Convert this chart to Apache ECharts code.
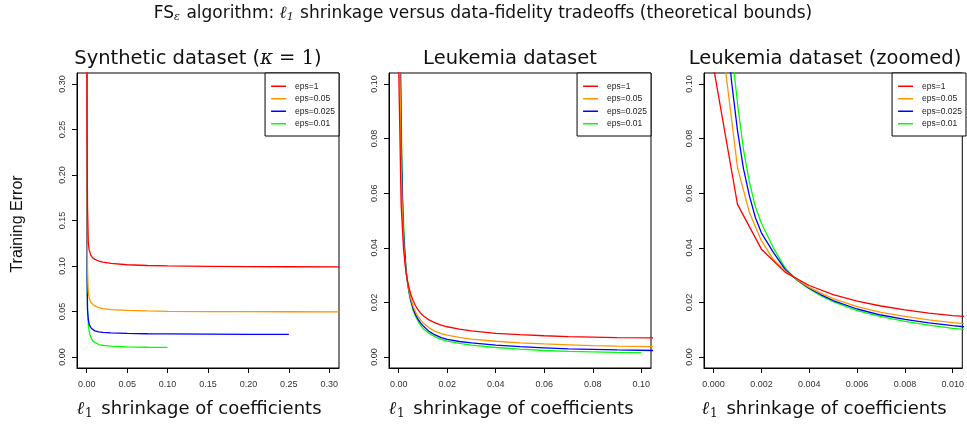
<!DOCTYPE html>
<html><head><meta charset="utf-8">
<script src="https://cdn.jsdelivr.net/npm/echarts@6/dist/echarts.min.js"></script>
<style>html,body{margin:0;padding:0;background:#fff}#c{width:967px;height:429px}</style>
</head><body><div id="c"></div>
<script>
// ---------- DATA ----------
const seriesNames = ['eps=1', 'eps=0.05', 'eps=0.025', 'eps=0.01'];
const seriesColors = ['#FF0000', '#FF9500', '#0000FF', '#00FF00'];

// Synthetic dataset (kappa = 1): [l1 shrinkage, training error]
const synEps1 = [[0.0002,0.40],[0.0005,0.24],[0.001,0.165],[0.002,0.125],[0.003,0.118],[0.005,0.112],[0.0075,0.109],[0.01,0.1073],[0.015,0.1055],[0.02,0.1043],[0.03,0.1028],[0.05,0.1014],[0.075,0.1006],[0.1,0.1002],[0.15,0.0997],[0.2,0.0994],[0.25,0.0992],[0.312,0.0991]];
const synEps005 = [[0.0002,0.4],[0.0005,0.16],[0.001,0.098],[0.0015,0.08],[0.002,0.071],[0.003,0.065],[0.005,0.0605],[0.0075,0.0578],[0.01,0.0562],[0.015,0.0544],[0.02,0.0533],[0.03,0.0522],[0.05,0.0513],[0.075,0.0507],[0.1,0.0503],[0.15,0.05],[0.2,0.0499],[0.25,0.0498],[0.312,0.0497]];
const synEps0025 = [[0.0002,0.4],[0.0005,0.09],[0.001,0.052],[0.002,0.041],[0.003,0.0365],[0.004,0.0342],[0.006,0.0314],[0.008,0.0298],[0.01,0.0288],[0.015,0.0277],[0.02,0.0271],[0.03,0.0265],[0.05,0.026],[0.075,0.0256],[0.1,0.0254],[0.15,0.0252],[0.2,0.025],[0.25,0.0249]];
const synEps001 = [[0.0001,0.5],[0.0003,0.2],[0.0006,0.08],[0.001,0.052],[0.002,0.036],[0.003,0.029],[0.004,0.0245],[0.006,0.0198],[0.008,0.0173],[0.01,0.0158],[0.015,0.0138],[0.02,0.0128],[0.03,0.012],[0.05,0.0113],[0.075,0.0108],[0.1,0.0106]];

// Leukemia dataset (used for both the full and zoomed panels)
const leuEps1 = [[0,0.106],[0.001,0.0559],[0.002,0.0395],[0.003,0.031],[0.004,0.0262],[0.005,0.0229],[0.006,0.0205],[0.007,0.0187],[0.008,0.0173],[0.009,0.0161],[0.01,0.0152],[0.0125,0.0136],[0.015,0.0125],[0.0175,0.0117],[0.02,0.0111],[0.025,0.0102],[0.03,0.0096],[0.04,0.0087],[0.05,0.0082],[0.06,0.0078],[0.07,0.0075],[0.08,0.0073],[0.09,0.0071],[0.105,0.0070]];
const leuEps005 = [[0,0.3],[0.0005,0.105],[0.001,0.0694],[0.0015,0.0529],[0.002,0.0426],[0.0025,0.0357],[0.003,0.0315],[0.0035,0.0283],[0.004,0.0255],[0.0045,0.0233],[0.005,0.0214],[0.006,0.0185],[0.007,0.0164],[0.008,0.0149],[0.009,0.0136],[0.01,0.0126],[0.0125,0.0107],[0.015,0.0094],[0.0175,0.0086],[0.02,0.008],[0.025,0.0072],[0.03,0.0066],[0.04,0.0058],[0.05,0.0052],[0.06,0.0048],[0.07,0.0045],[0.08,0.0042],[0.09,0.004],[0.105,0.0038]];
const leuEps0025 = [[0.0001,0.6],[0.00025,0.25],[0.0005,0.125],[0.00075,0.101],[0.001,0.083],[0.00125,0.069],[0.0015,0.059],[0.00175,0.051],[0.002,0.0455],[0.0025,0.0383],[0.003,0.032],[0.0035,0.0282],[0.004,0.0252],[0.0045,0.0228],[0.005,0.0207],[0.006,0.0176],[0.007,0.0154],[0.008,0.0138],[0.009,0.0125],[0.01,0.0115],[0.0125,0.0094],[0.015,0.0081],[0.0175,0.0071],[0.02,0.0065],[0.025,0.0057],[0.03,0.0052],[0.04,0.0044],[0.05,0.0038],[0.06,0.0034],[0.07,0.003],[0.08,0.0028],[0.09,0.0026],[0.105,0.0024]];
const leuEps001 = [[0.0001,0.8],[0.0003,0.25],[0.0005,0.15],[0.00075,0.113],[0.001,0.093],[0.00125,0.076],[0.0015,0.064],[0.00175,0.055],[0.002,0.049],[0.0025,0.04],[0.003,0.0325],[0.0035,0.028],[0.004,0.0249],[0.0045,0.0224],[0.005,0.0203],[0.006,0.017],[0.007,0.0148],[0.008,0.0131],[0.009,0.0117],[0.01,0.0105],[0.0125,0.0087],[0.015,0.0075],[0.0175,0.0065],[0.02,0.0058],[0.025,0.005],[0.03,0.0044],[0.04,0.0035],[0.05,0.0029],[0.06,0.0024],[0.07,0.0021],[0.08,0.0019],[0.09,0.0017],[0.1,0.0016]];

// Ticks
const synXTicks = [0, 0.05, 0.1, 0.15, 0.2, 0.25, 0.3];
const synXLabels = ['0.00','0.05','0.10','0.15','0.20','0.25','0.30'];
const synYTicks = [0, 0.05, 0.1, 0.15, 0.2, 0.25, 0.3];
const synYLabels = ['0.00','0.05','0.10','0.15','0.20','0.25','0.30'];
const leuXTicks = [0, 0.02, 0.04, 0.06, 0.08, 0.1];
const leuXLabels = ['0.00','0.02','0.04','0.06','0.08','0.10'];
const leuYTicks = [0, 0.02, 0.04, 0.06, 0.08, 0.1];
const leuYLabels = ['0.00','0.02','0.04','0.06','0.08','0.10'];
const zoomXTicks = [0, 0.002, 0.004, 0.006, 0.008, 0.01];
const zoomXLabels = ['0.000','0.002','0.004','0.006','0.008','0.010'];

const panelTitles = ['{t|Synthetic dataset (}{k|κ}{m| = 1}{t|)}', '{t|Leukemia dataset}', '{t|Leukemia dataset (zoomed)}'];
const mainTitle = '{a|FS}{s|ε}{a| algorithm: }{l|ℓ}{s|1}{a| shrinkage versus data-fidelity tradeoffs (theoretical bounds)}';
const xName = '{l|ℓ}{s|1}{t| shrinkage of coefficients}';
const yName = 'Training Error';

// ---------- LAYOUT ----------
const grids = [
  {left: 77, top: 73, width: 262, height: 295},
  {left: 389, top: 73, width: 262, height: 295},
  {left: 704, top: 73, width: 262, height: 295}
];
const xRanges = [[-0.012, 0.312], [-0.004, 0.104], [-0.0004, 0.0104]];
const yRanges = [[-0.012, 0.312], [-0.004, 0.104], [-0.004, 0.104]];
const xTickSets = [[synXTicks, synXLabels], [leuXTicks, leuXLabels], [zoomXTicks, zoomXLabels]];
const yTickSets = [[synYTicks, synYLabels], [leuYTicks, leuYLabels], [leuYTicks, leuYLabels]];
const panelData = [
  [synEps1, synEps005, synEps0025, synEps001],
  [leuEps1, leuEps005, leuEps0025, leuEps001],
  [leuEps1, leuEps005, leuEps0025, leuEps001]
];

function fmt(ticks, labels) {
  return function (v) {
    for (let i = 0; i < ticks.length; i++) if (Math.abs(ticks[i] - v) < 1e-12) return labels[i];
    return '';
  };
}
const labelFont = {fontSize: 9, fontFamily: 'Liberation Sans, Arial, sans-serif', color: '#333'};
const axLine = {show: true, onZero: false, lineStyle: {color: '#000', width: 1}};

const xAxes = [], yAxes = [], series = [], titles = [], legends = [];
grids.forEach((g, i) => {
  const [xt, xl] = xTickSets[i];
  const [yt, yl] = yTickSets[i];
  xAxes.push({
    type: 'value', gridIndex: i, min: xRanges[i][0], max: xRanges[i][1],
    axisLine: axLine,
    axisTick: {show: true, customValues: xt, length: 5, lineStyle: {color: '#000'}},
    axisLabel: Object.assign({customValues: xt, formatter: fmt(xt, xl), margin: 12, hideOverlap: false}, labelFont),
    splitLine: {show: false},
    name: xName, nameLocation: 'middle', nameGap: 31,
    nameTextStyle: {
      padding: [0, 18, 0, 0],
      rich: {
        t: {fontSize: 18, fontFamily: 'DejaVu Sans, sans-serif', color: '#111'},
        l: {fontSize: 18, fontFamily: 'DejaVu Serif, serif', fontStyle: 'italic', color: '#111'},
        s: {fontSize: 12, fontFamily: 'DejaVu Serif, serif', color: '#111', padding: [9, 3, 0, 1]}
      }
    }
  });
  yAxes.push({
    type: 'value', gridIndex: i, min: yRanges[i][0], max: yRanges[i][1],
    axisLine: axLine,
    axisTick: {show: true, customValues: yt, length: 5, lineStyle: {color: '#000'}},
    axisLabel: Object.assign({customValues: yt, formatter: fmt(yt, yl), rotate: 90, margin: 10, hideOverlap: false}, labelFont),
    splitLine: {show: false}
  });
  panelData[i].forEach((d, k) => {
    series.push({
      type: 'line', name: seriesNames[k], xAxisIndex: i, yAxisIndex: i, data: d,
      symbol: 'none', showSymbol: false, clip: true, smooth: false,
      lineStyle: {color: seriesColors[k], width: 1.3}, itemStyle: {color: seriesColors[k]},
      z: 10 - k
    });
  });
  titles.push({
    text: panelTitles[i], left: g.left + g.width / 2 - 10, top: 49, textAlign: 'center', padding: 0,
    textStyle: {
      fontWeight: 'normal',
      rich: {
        t: {fontSize: 19.5, fontFamily: 'DejaVu Sans, sans-serif', color: '#111', fontWeight: 'normal'},
        k: {fontSize: 19.5, fontFamily: 'DejaVu Serif, serif', fontStyle: 'italic', color: '#111', fontWeight: 'normal'},
        m: {fontSize: 19.5, fontFamily: 'DejaVu Serif, serif', color: '#111', fontWeight: 'normal'}
      }
    }
  });
  legends.push({
    orient: 'vertical', right: 967 - (g.left + g.width), top: g.top,
    data: seriesNames, itemWidth: 15, itemHeight: 12.5, itemGap: 0,
    icon: 'path://M0,0h15v1.5h-15z', symbolKeepAspect: true,
    itemStyle: {borderWidth: 0},
    padding: [7, 4, 6, 6], backgroundColor: '#fff', borderColor: '#000', borderWidth: 1, borderRadius: 0,
    selectedMode: false,
    textStyle: {fontSize: 8.5, fontFamily: 'Liberation Sans, Arial, sans-serif', color: '#222', lineHeight: 12.5, padding: [0, 0, 0, 4]}
  });
});
titles.push({
  text: mainTitle, left: 483, top: 4, textAlign: 'center', padding: 0,
  textStyle: {
    fontWeight: 'normal',
    rich: {
      a: {fontSize: 17, fontFamily: 'DejaVu Sans, sans-serif', color: '#111', fontWeight: 'normal'},
      l: {fontSize: 17, fontFamily: 'DejaVu Serif, serif', fontStyle: 'italic', color: '#111', fontWeight: 'normal'},
      s: {fontSize: 11, fontFamily: 'DejaVu Serif, serif', fontStyle: 'italic', color: '#111', fontWeight: 'normal', padding: [8, 1, 0, 0]}
    }
  }
});

const chart = echarts.init(document.getElementById('c'), null, {renderer: 'canvas'});
chart.setOption({
  animation: false,
  backgroundColor: '#fff',
  title: titles,
  legend: legends,
  grid: grids.map(g => Object.assign({show: true, borderColor: '#000', borderWidth: 1, backgroundColor: 'transparent', containLabel: false}, g)),
  xAxis: xAxes,
  yAxis: yAxes,
  series: series,
  graphic: [{
    type: 'text', x: 18, y: 224, rotation: Math.PI / 2,
    style: {text: yName, textAlign: 'center', textVerticalAlign: 'middle', font: '16px "Liberation Sans", Arial, sans-serif', fill: '#111'}
  }]
});
</script></body></html>
